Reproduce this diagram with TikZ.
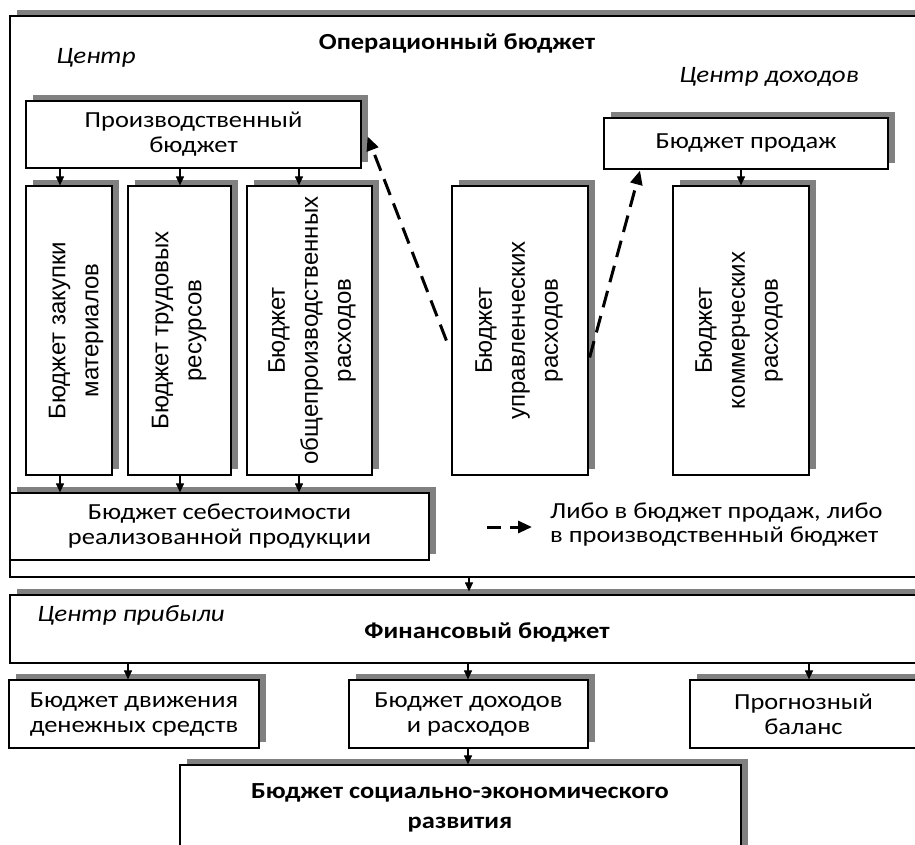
\documentclass[tikz,border=0pt]{standalone}
\usepackage{fontspec}
\setmainfont{Carlito}[FakeStretch=1.15]
\newfontfamily\vfont{Liberation Sans}
\usetikzlibrary{arrows.meta,shadows,calc}
\definecolor{shgray}{RGB}{128,128,128}
\begin{document}
\begin{tikzpicture}[x=1pt,y=-1pt,
  box/.style={draw, line width=1.2pt, fill=white, inner sep=0pt, align=center,
    font=\fontsize{23}{25}\selectfont,
    drop shadow={shadow xshift=7pt,shadow yshift=6pt,fill=shgray,opacity=1}},
  vtxt/.style={font=\vfont\fontsize{24}{33}\selectfont, align=center, rotate=90, inner sep=0pt},
  ital/.style={font=\itshape\fontsize{23.5}{25}\selectfont},
  ttl/.style={font=\bfseries\fontsize{23}{25}\selectfont},
  arr/.style={line width=1.1pt, -{Triangle[width=8pt,length=9pt]}},
  darr/.style={line width=3pt, dash pattern=on 17pt off 9pt, -{Triangle[width=12pt,length=14pt]}}
]
\useasboundingbox (0,0) rectangle (915,844);
% operational budget
\node[box, minimum width=915pt, minimum height=561pt] (op) at (467.5,296.5) {};
\node[ttl] (opt) at (457,43) {Операционный бюджет};
\node[ital] (c1) at (96,58) {Центр};
\node[ital] (c2) at (769,77) {Центр доходов};
% inner boxes
\node[box, minimum width=335pt, minimum height=67pt] (prod) at (193.5,134.5) {Производственный\\бюджет};
\node[box, minimum width=284pt, minimum height=51pt] (sales) at (746,143.5) {Бюджет продаж};
\node[box, minimum width=86pt, minimum height=289pt] (v1) at (69,330.5) {};
\node[box, minimum width=103pt, minimum height=289pt] (v2) at (179.5,330.5) {};
\node[box, minimum width=125pt, minimum height=289pt] (v3) at (309.5,330.5) {};
\node[box, minimum width=136pt, minimum height=289pt] (v4) at (520,330.5) {};
\node[box, minimum width=136pt, minimum height=289pt] (v5) at (741,330.5) {};
\node[vtxt] (t1) at (76,330.5) {Бюджет закупки\\материалов};
\node[vtxt] (t2) at (179,330.5) {Бюджет трудовых\\ресурсов};
\node[vtxt] (t3) at (312,330.5) {Бюджет\\общепроизводственных\\расходов};
\node[vtxt] (t4) at (519,330.5) {Бюджет\\управленческих\\расходов};
\node[vtxt] (t5) at (739,330.5) {Бюджет\\коммерческих\\расходов};
\node[box, minimum width=419pt, minimum height=67pt] (cost) at (219.5,526.5) {Бюджет себестоимости\\реализованной продукции};
% legend
\coordinate (lga) at (487,527);
\coordinate (lgb) at (532,527);
\draw[darr, dash pattern=on 14pt off 9pt] (lga) -- (lgb);
\node[anchor=west, align=left, font=\fontsize{23}{24}\selectfont, inner sep=0pt] (lgt) at (550,525) {Либо в бюджет продаж, либо\\в производственный бюджет};
% financial budget
\node[box, minimum width=915pt, minimum height=68pt] (fin) at (467.5,629) {};
\node[ital] (c3) at (131,615) {Центр прибыли};
\node[ttl] (fint) at (487,632) {Финансовый бюджет};
\node[box, minimum width=250pt, minimum height=68pt] (ba) at (134,714) {Бюджет движения\\денежных средств};
\node[box, minimum width=239pt, minimum height=68pt] (bb) at (468.5,714) {Бюджет доходов\\и расходов};
\node[box, minimum width=227pt, minimum height=68pt] (bc) at (803.5,714) {Прогнозный\\баланс};
\node[box, minimum width=561pt, minimum height=105pt] (bd) at (460.5,817.5) {};
\node[font=\bfseries\fontsize{23}{30}\selectfont, align=center] (bdt) at (460,808) {Бюджет социально-экономического\\развития};
% arrow x positions
\coordinate (xa) at (60,0);
\coordinate (xb) at (180,0);
\coordinate (xc) at (299,0);
\coordinate (xo) at (469,0);
\coordinate (xf1) at (128,0);
\coordinate (xf2) at (468,0);
\coordinate (xf3) at (809,0);
\draw[arr] (prod.south -| xa) -- (v1.north -| xa);
\draw[arr] (prod.south -| xb) -- (v2.north -| xb);
\draw[arr] (prod.south -| xc) -- (v3.north -| xc);
\draw[arr] (v1.south -| xa) -- (cost.north -| xa);
\draw[arr] (v2.south -| xb) -- (cost.north -| xb);
\draw[arr] (v3.south -| xc) -- (cost.north -| xc);
\draw[arr] (sales.south -| v5.north) -- (v5.north);
\draw[arr] (op.south -| xo) -- ([yshift=3pt]fin.north -| xo);
\draw[arr] (fin.south -| xf1) -- (ba.north -| xf1);
\draw[arr] (fin.south -| xf2) -- (bb.north -| xf2);
\draw[arr] (fin.south -| xf3) -- (bc.north -| xf3);
\draw[arr] (bb.south -| xf2) -- (bd.north -| xf2);
% dashed arrows
\coordinate (d1s) at ($(v4.west)+(-5,10)$);
\coordinate (d1e) at ($(prod.east)+(6,2)$);
\coordinate (d2s) at ($(v4.east)+(1,27)$);
\coordinate (d2e) at ($(sales.south)+(-106,1)$);
\draw[darr] (d1s) -- (d1e);
\draw[darr] (d2s) -- (d2e);
\end{tikzpicture}
\end{document}
